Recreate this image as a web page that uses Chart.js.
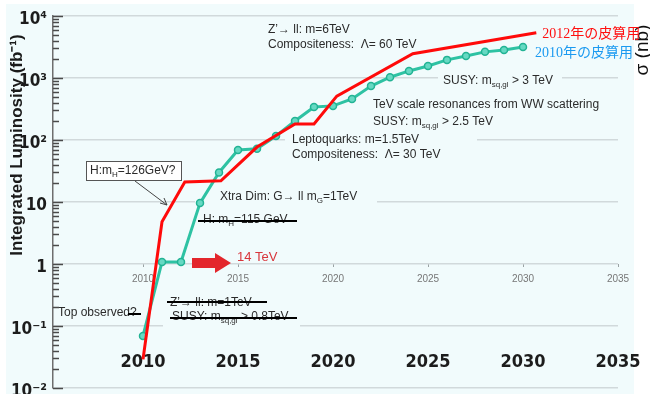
<!DOCTYPE html>
<html>
<head>
<meta charset="utf-8">
<script src="https://cdn.jsdelivr.net/npm/chart.js@4/dist/chart.umd.min.js"></script>
<style>
  html, body { margin: 0; padding: 0; background: #ffffff; overflow: hidden; }
  canvas { display: block; }
</style>
</head>
<body>
<canvas id="lumi" width="650" height="394"></canvas>
<script>
// Integrated luminosity outlook (fb^-1) per year: the 2010 plan and the 2012 plan
const plan2010Years = [2010, 2011, 2012, 2013, 2014, 2015, 2016, 2017, 2018, 2019, 2020,
                       2021, 2022, 2023, 2024, 2025, 2026, 2027, 2028, 2029, 2030];
const plan2010Lumi  = [0.069, 1.08, 1.08, 9.6, 30, 69, 72, 116, 202, 340, 355,
                       460, 740, 1030, 1300, 1560, 1960, 2270, 2640, 2840, 3170];
const plan2012Years = [2010, 2011, 2012.2, 2014.1, 2016, 2018, 2019, 2020.2, 2024.2, 2030.7];
const plan2012Lumi  = [0.029, 4.8, 21, 22, 77, 181, 181, 510, 2460, 5350];
const seriesNames   = ['2012年の皮算用', '2010年の皮算用'];
const yearTicks     = [2010, 2015, 2020, 2025, 2030, 2035];
const decadeTicks   = [0.01, 0.1, 1, 10, 100, 1000, 10000];
const decadeLabels  = ['10⁻²', '10⁻¹', '1', '10', '10²', '10³', '10⁴'];

const SANS = "'Liberation Sans', Arial, sans-serif";
const NARROW = "'Liberation Sans Narrow', 'DejaVu Sans Condensed', 'Liberation Sans', sans-serif";
const SERIF_JP = "'Liberation Serif', 'Noto Sans CJK JP', serif";
const BG = '#f1fbfc';
const GRID = '#d1d9db';
const TEXT = '#2b2b2b';

function decadeIndex(v) {
  const e = Math.log10(v);
  if (Math.abs(e - Math.round(e)) > 1e-6) return -1;
  return decadeTicks.findIndex(t => Math.abs(Math.log10(t) - e) < 1e-6);
}

// log-axis ticks: every 1..9 step within each decade
function logTicks() {
  const out = [];
  for (let d = 0; d < decadeTicks.length - 1; d++) {
    for (let m = 1; m < 10; m++) out.push({ value: m * decadeTicks[d] });
  }
  out.push({ value: decadeTicks[decadeTicks.length - 1] });
  return out;
}

// physics reach notes placed along the curves
const notes = [
  { x: 268, y: 30,  parts: ['Z’→ ll: m=6TeV'] },
  { x: 268, y: 45,  parts: ['Compositeness:  Λ= 60 TeV'] },
  { x: 443, y: 81,  parts: ['SUSY: m', { sub: 'sq,gl' }, ' > 3 TeV'] },
  { x: 373, y: 105, parts: ['TeV scale resonances from WW scattering'] },
  { x: 373, y: 122, parts: ['SUSY: m', { sub: 'sq,gl' }, ' > 2.5 TeV'] },
  { x: 292, y: 140, parts: ['Leptoquarks: m=1.5TeV'] },
  { x: 292, y: 155, parts: ['Compositeness:  Λ= 30 TeV'] },
  { x: 220, y: 197, parts: ['Xtra Dim: G→ ll m', { sub: 'G' }, '=1TeV'] },
  { x: 203, y: 220, parts: ['H: m', { sub: 'H' }, '=115 GeV'], strike: [198, 297, 221] },
  { x: 170, y: 303, parts: ['Z’→ ll: m=1TeV'], strike: [167, 267, 302] },
  { x: 172, y: 317, parts: ['SUSY: m', { sub: 'sq,gl' }, ' > 0.8TeV'], strike: [170, 297, 318] },
  { x: 58,  y: 313, parts: ['Top observed?'], strike: [128, 141, 314] }
];
// text backings that interrupt the grid
const backings = [
  [438, 70, 124, 18],
  [285, 132, 192, 16],
  [195, 192, 182, 18],
  [163, 296, 137, 34]
];

function richText(ctx, x, y, parts, size) {
  let cx = x;
  for (const p of parts) {
    if (typeof p === 'string') {
      ctx.font = size + 'px ' + SANS;
      ctx.fillText(p, cx, y);
      cx += ctx.measureText(p).width;
    } else {
      const s = Math.round(size * 0.68);
      ctx.font = s + 'px ' + SANS;
      ctx.fillText(p.sub, cx, y + size * 0.32);
      cx += ctx.measureText(p.sub).width;
    }
  }
  return cx;
}

const decor = {
  id: 'decor',
  beforeDraw(chart) {
    const ctx = chart.ctx;
    ctx.save();
    ctx.fillStyle = '#ffffff';
    ctx.fillRect(0, 0, chart.width, chart.height);
    ctx.fillStyle = BG;
    ctx.fillRect(6, 4, 628, 390);
    ctx.restore();
  },
  beforeDatasetsDraw(chart) {
    const ctx = chart.ctx;
    ctx.save();

    ctx.fillStyle = BG;
    backings.forEach(b => ctx.fillRect(b[0], b[1], b[2], b[3]));

    ctx.textBaseline = 'middle';
    ctx.textAlign = 'left';
    notes.forEach(n => {
      ctx.fillStyle = TEXT;
      richText(ctx, n.x, n.y, n.parts, 12);
      if (n.strike) {
        ctx.strokeStyle = '#000';
        ctx.lineWidth = 2;
        ctx.beginPath();
        ctx.moveTo(n.strike[0], n.strike[2]);
        ctx.lineTo(n.strike[1], n.strike[2]);
        ctx.stroke();
      }
    });

    // boxed Higgs note with leader
    ctx.fillStyle = '#ffffff';
    ctx.fillRect(86, 161, 95, 19);
    ctx.strokeStyle = '#555';
    ctx.lineWidth = 1;
    ctx.strokeRect(86.5, 161.5, 95, 19);
    ctx.fillStyle = TEXT;
    richText(ctx, 90, 171, ['H:m', { sub: 'H' }, '=126GeV?'], 12);
    ctx.strokeStyle = '#444';
    ctx.beginPath();
    ctx.moveTo(135, 181);
    ctx.lineTo(167, 205);
    ctx.stroke();
    ctx.beginPath();
    ctx.moveTo(167, 205);
    ctx.lineTo(160, 203);
    ctx.moveTo(167, 205);
    ctx.lineTo(164, 198);
    ctx.stroke();

    // 14 TeV arrow
    ctx.fillStyle = '#e3262c';
    ctx.beginPath();
    ctx.moveTo(192, 258);
    ctx.lineTo(215, 258);
    ctx.lineTo(215, 253);
    ctx.lineTo(231, 263);
    ctx.lineTo(215, 273);
    ctx.lineTo(215, 268);
    ctx.lineTo(192, 268);
    ctx.closePath();
    ctx.fill();
    ctx.fillStyle = '#d8363c';
    ctx.font = '13px ' + SANS;
    ctx.fillText('14 TeV', 237, 257);

    // axis titles
    ctx.fillStyle = '#1a1a1a';
    ctx.font = 'bold 17px ' + SANS;
    ctx.textAlign = 'center';
    ctx.translate(17, 145);
    ctx.rotate(-Math.PI / 2);
    ctx.fillText('Integrated Luminosity (fb⁻¹)', 0, 0);
    ctx.restore();

    ctx.save();
    ctx.fillStyle = '#111';
    ctx.font = '19px ' + SANS;
    ctx.textAlign = 'center';
    ctx.textBaseline = 'middle';
    ctx.translate(643, 50);
    ctx.rotate(-Math.PI / 2);
    ctx.fillText('σ (nb)', 0, 0);
    ctx.restore();
  },
  afterDatasetsDraw(chart) {
    const ctx = chart.ctx;
    ctx.save();
    ctx.textBaseline = 'middle';
    ctx.textAlign = 'left';
    ctx.font = '14px ' + SERIF_JP;
    const red = chart.getDatasetMeta(0).data;
    const teal = chart.getDatasetMeta(1).data;
    const r = red[red.length - 1];
    const t = teal[teal.length - 1];
    ctx.fillStyle = '#ff1010';
    ctx.fillText(seriesNames[0], r.x + 6, r.y + 1);
    ctx.fillStyle = '#1b9af0';
    ctx.fillText(seriesNames[1], t.x + 12, t.y + 6);
    ctx.restore();
  },
  afterDraw(chart) {
    // inward tick marks on the log axis, longer at each decade
    const ctx = chart.ctx;
    const ys = chart.scales.y;
    const x0 = ys.right;
    ctx.save();
    ctx.strokeStyle = '#4a4a4a';
    ctx.lineWidth = 1.5;
    logTicks().forEach(t => {
      const py = Math.round(ys.getPixelForValue(t.value)) + 0.5;
      const len = decadeIndex(t.value) >= 0 ? 10 : 6;
      ctx.beginPath();
      ctx.moveTo(x0, py);
      ctx.lineTo(x0 + len, py);
      ctx.stroke();
    });
    ctx.restore();
  }
};

const xMin = 2005.263, xMax = 2035;

new Chart(document.getElementById('lumi'), {
  type: 'line',
  data: {
    datasets: [
      {
        label: seriesNames[0],
        data: plan2012Years.map((x, i) => ({ x, y: plan2012Lumi[i] })),
        borderColor: '#ff0a0a',
        borderWidth: 3,
        pointRadius: 0,
        tension: 0
      },
      {
        label: seriesNames[1],
        data: plan2010Years.map((x, i) => ({ x, y: plan2010Lumi[i] })),
        borderColor: '#2ec2a3',
        borderWidth: 3,
        pointRadius: 3.5,
        pointBackgroundColor: '#66d9c3',
        pointBorderColor: '#22b394',
        pointBorderWidth: 1.5,
        tension: 0
      }
    ]
  },
  options: {
    responsive: false,
    animation: false,
    devicePixelRatio: 1,
    layout: { padding: { top: 16, right: 32, bottom: 6, left: 0 } },
    plugins: { legend: { display: false }, tooltip: { enabled: false } },
    scales: {
      x: {
        type: 'linear', min: xMin, max: xMax, display: false
      },
      xSmall: {
        axis: 'x', type: 'linear', min: xMin, max: xMax,
        position: { y: 1 },
        afterBuildTicks: s => { s.ticks = yearTicks.map(v => ({ value: v })); },
        grid: { display: true, drawOnChartArea: false, drawTicks: true, tickLength: 3, tickColor: '#9aa2a4' },
        border: { display: false },
        ticks: { padding: 6, color: '#777', font: { family: SANS, size: 10 }, callback: v => String(v), autoSkip: false, maxRotation: 0 }
      },
      xBold: {
        axis: 'x', type: 'linear', min: xMin, max: xMax,
        position: { y: 0.042 },
        afterBuildTicks: s => { s.ticks = yearTicks.map(v => ({ value: v })); },
        grid: { display: false, drawTicks: false },
        border: { display: false },
        ticks: { padding: 2, color: '#1c1c1c', font: { family: NARROW, size: 18, weight: 'bold' }, callback: v => String(v), autoSkip: false, maxRotation: 0 }
      },
      y: {
        type: 'logarithmic',
        position: 'left',
        min: decadeTicks[0],
        max: decadeTicks[decadeTicks.length - 1],
        afterBuildTicks: s => { s.ticks = logTicks(); },
        afterFit: s => { s.width = 53; s.paddingTop = 0; s.paddingBottom = 0; },
        grid: {
          color: c => (c.tick && decadeIndex(c.tick.value) >= 0) ? GRID : 'rgba(0,0,0,0)',
          lineWidth: 1.5,
          drawTicks: false
        },
        border: { display: true, color: '#6e6e6e', width: 1.5 },
        ticks: {
          autoSkip: false,
          padding: 6,
          labelOffset: 4,
          color: '#1c1c1c',
          font: { family: NARROW, size: 17, weight: 'bold' },
          callback: v => { const i = decadeIndex(v); return i >= 0 ? decadeLabels[i] : ''; }
        }
      }
    }
  },
  plugins: [decor]
});
</script>
</body>
</html>
